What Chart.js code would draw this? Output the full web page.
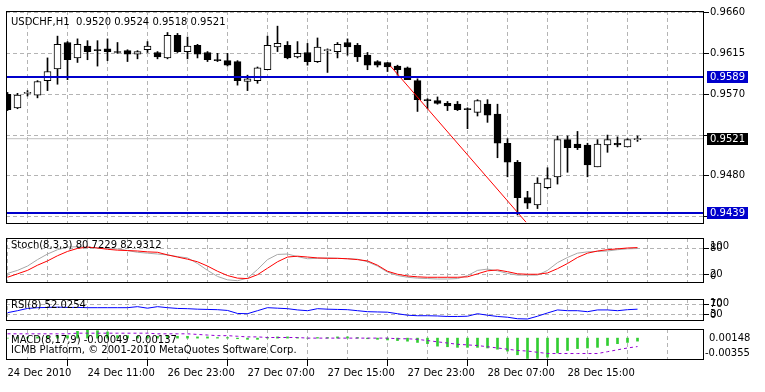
<!DOCTYPE html>
<html>
<head>
<meta charset="utf-8">
<script src="https://cdn.jsdelivr.net/npm/chart.js@4/dist/chart.umd.min.js"></script>
<style>
  html, body { margin: 0; padding: 0; background: #fff; }
  #wrap { position: relative; width: 765px; height: 392px; overflow: hidden; background: #fff; }
  #wrap canvas { position: absolute; left: 0; }
</style>
</head>
<body>
<div id="wrap">
  <canvas id="mainChart" width="765" height="231" style="top:0px"></canvas>
  <canvas id="stochChart" width="765" height="59" style="top:231px"></canvas>
  <canvas id="rsiChart" width="765" height="36" style="top:292px"></canvas>
  <canvas id="macdChart" width="765" height="63" style="top:329px"></canvas>
</div>
<script>
// USDCHF H1, 64 bars
const timeLabels = ['24 Dec 2010', '24 Dec 11:00', '26 Dec 23:00', '27 Dec 07:00',
                    '27 Dec 15:00', '27 Dec 23:00', '28 Dec 07:00', '28 Dec 15:00'];
const gridBars = [0, 4, 8, 12, 16, 20, 24, 28, 32, 36, 40, 44, 48, 52, 56, 60, 64, 68];
const priceTicks = [0.9660, 0.9615, 0.9570, 0.9525, 0.9480, 0.9435];
const hiddenTicks = [0.9525];

const openP = [0.9570, 0.9555, 0.9571, 0.9569, 0.9585, 0.9598, 0.9627, 0.9610, 0.9623, 0.9619,
               0.9620, 0.9617, 0.9618, 0.9614, 0.9619, 0.9616, 0.9610, 0.9635, 0.9617, 0.9624,
               0.9616, 0.9608, 0.9607, 0.9606, 0.9584, 0.9585, 0.9597, 0.9622, 0.9624, 0.9611,
               0.9616, 0.9606, 0.9618, 0.9617, 0.9627, 0.9624, 0.9613, 0.9606, 0.9605, 0.9601,
               0.9599, 0.9585, 0.9564, 0.9563, 0.9560, 0.9559, 0.9554, 0.9550, 0.9559, 0.9548,
               0.9516, 0.9495, 0.9456, 0.9448, 0.9467, 0.9479, 0.9520, 0.9515, 0.9514, 0.9490,
               0.9514, 0.9516, 0.9512, 0.9520];
const highP = [0.9572, 0.9571, 0.9574, 0.9585, 0.9610, 0.9634, 0.9628, 0.9631, 0.9629, 0.9629,
               0.9631, 0.9627, 0.9619, 0.9618, 0.9628, 0.9617, 0.9638, 0.9637, 0.9633, 0.9625,
               0.9617, 0.9615, 0.9615, 0.9607, 0.9591, 0.9600, 0.9634, 0.9645, 0.9628, 0.9628,
               0.9626, 0.9632, 0.9620, 0.9627, 0.9631, 0.9626, 0.9616, 0.9607, 0.9605, 0.9602,
               0.9600, 0.9587, 0.9565, 0.9567, 0.9562, 0.9562, 0.9555, 0.9564, 0.9564, 0.9559,
               0.9521, 0.9497, 0.9463, 0.9478, 0.9489, 0.9524, 0.9524, 0.9529, 0.9516, 0.9520,
               0.9525, 0.9523, 0.9521, 0.9524];
const lowP = [0.9552, 0.9554, 0.9568, 0.9566, 0.9574, 0.9581, 0.9586, 0.9605, 0.9608, 0.9601,
              0.9607, 0.9615, 0.9606, 0.9609, 0.9616, 0.9609, 0.9609, 0.9616, 0.9609, 0.9610,
              0.9606, 0.9606, 0.9601, 0.9580, 0.9574, 0.9582, 0.9597, 0.9617, 0.9609, 0.9610,
              0.9602, 0.9605, 0.9594, 0.9610, 0.9613, 0.9606, 0.9597, 0.9600, 0.9595, 0.9591,
              0.9586, 0.9551, 0.9554, 0.9559, 0.9552, 0.9552, 0.9532, 0.9546, 0.9539, 0.9500,
              0.9479, 0.9437, 0.9444, 0.9444, 0.9466, 0.9471, 0.9484, 0.9509, 0.9479, 0.9490,
              0.9506, 0.9512, 0.9512, 0.9518];
const closeP = [0.9553, 0.9569, 0.9572, 0.9584, 0.9595, 0.9625, 0.9608, 0.9625, 0.9617, 0.9618,
                0.9617, 0.9616, 0.9614, 0.9617, 0.9623, 0.9611, 0.9635, 0.9617, 0.9623, 0.9614,
                0.9608, 0.9607, 0.9602, 0.9585, 0.9587, 0.9599, 0.9624, 0.9626, 0.9610, 0.9615,
                0.9606, 0.9622, 0.9619, 0.9625, 0.9622, 0.9611, 0.9602, 0.9602, 0.9600, 0.9597,
                0.9586, 0.9564, 0.9563, 0.9560, 0.9557, 0.9553, 0.9553, 0.9563, 0.9547, 0.9516,
                0.9495, 0.9456, 0.9450, 0.9472, 0.9477, 0.9520, 0.9511, 0.9511, 0.9492, 0.9515,
                0.9520, 0.9514, 0.9520, 0.9521];

const levelLines = [0.9589, 0.9439];
const bidPrice = 0.9521;
const trendX = [38.3, 51.85];
const trendY = [0.9601, 0.9429];
const boxLevels = [0.9589, 0.9521, 0.9439];

const stochMain = [23, 30, 40, 55, 68, 78, 84, 85, 84, 82, 81, 80, 76, 72, 70, 68, 66, 62, 59, 46,
                   30, 16, 8, 6, 12, 32, 55, 67, 68, 62, 57, 58, 59, 58, 57, 56, 50, 40, 26, 18,
                   14, 12, 11, 10, 10, 11, 18, 30, 33, 29, 23, 19, 19, 19, 30, 48, 60, 70, 73, 74,
                   75, 78, 80, 80.7229];
const stochSignal = [14, 22, 30, 42, 52, 64, 74, 81, 84, 82, 79, 77, 76, 75, 73, 72, 66, 61, 56, 50,
                     40, 28, 18, 12, 11, 20, 35, 50, 61, 63, 61, 59, 58, 58, 57, 55, 52, 42, 28, 21,
                     17, 15, 14, 14, 14, 14, 15, 22, 29, 31, 27, 22, 21, 21, 24, 34, 46, 60, 70, 75,
                     78, 80, 82, 82.9312];
const stochLevels = [80, 20];

const rsiValues = [38, 46, 55, 58, 59, 60, 59, 59, 58, 58, 58, 58, 58, 62, 56, 62, 58, 55, 54, 52,
                   51, 50, 47, 35, 34, 46, 58, 56, 54, 49, 46, 54, 52, 51, 50, 46, 42, 41, 40, 34,
                   28, 26, 26, 25, 23, 23, 24, 34, 28, 23, 20, 14, 13, 24, 37, 49, 46, 46, 42, 49,
                   49, 46, 50, 52.0254];
const rsiLevels = [70, 30];

const macdMain = [0.0000, 0.0001, 0.0001, 0.0002, 0.0003, 0.0004, 0.0004, 0.0011, 0.00148, 0.0012,
                  0.0010, 0.0004, 0.0004, 0.0003, 0.0003, 0.0003, 0.0004, 0.0003, 0.0003, 0.0002,
                  0.0002, 0.0001, 0.0001, -0.0001, -0.0002, -0.0002, 0.0001, 0.0002, 0.0002, 0.0001,
                  0.0000, 0.0001, 0.0001, 0.0002, 0.0002, 0.0001, -0.0001, -0.0002, -0.0003, -0.0004,
                  -0.0005, -0.0007, -0.0009, -0.0013, -0.0014, -0.0015, -0.0015, -0.0015, -0.0016, -0.0018,
                  -0.0021, -0.0027, -0.0033, -0.0033, -0.0031, -0.0024, -0.0020, -0.0017, -0.0016, -0.0015,
                  -0.0012, -0.0009, -0.0007, -0.00049];
const macdSignal = [0.0007, 0.0007, 0.0007, 0.0007, 0.0007, 0.0007, 0.0007, 0.0008, 0.0008, 0.0008,
                    0.0008, 0.0008, 0.0008, 0.0008, 0.0008, 0.0007, 0.0007, 0.0007, 0.0007, 0.0006,
                    0.0005, 0.0004, 0.0004, 0.0003, 0.0002, 0.0002, 0.0001, 0.0001, 0.0001, 0.0001,
                    0.0000, 0.0000, 0.0000, 0.0000, 0.0000, 0.0000, 0.0000, 0.0000, 0.0000, -0.0001,
                    -0.0001, -0.0002, -0.0004, -0.0006, -0.0008, -0.0010, -0.0011, -0.0012, -0.0014, -0.0016,
                    -0.0018, -0.0020, -0.0021, -0.0023, -0.0025, -0.0025, -0.0025, -0.0025, -0.0025, -0.0025,
                    -0.0022, -0.0019, -0.0016, -0.00137];
const macdRange = [-0.00355, 0.00148];

const X_MIN = -0.15, X_MAX = 69.65;
const FONT = 'DejaVu Sans';
const GRID = '#b4b4b4';
const AXIS_W = 61;

const series = arr => arr.map((v, i) => ({ x: i, y: v }));

const common = {
    responsive: false,
    animation: false,
    devicePixelRatio: 1,
    events: [],
    plugins: { legend: { display: false }, tooltip: { enabled: false } }
};

function xAxis(showLabels) {
    return {
        type: 'linear', min: X_MIN, max: X_MAX, offset: false,
        afterBuildTicks: s => { s.ticks = gridBars.map(v => ({ value: v })); },
        afterFit: s => { s.height = showLabels ? 32 : 0; },
        grid: {
            color: GRID, drawTicks: showLabels, tickLength: 6,
            tickColor: c => (c.tick && c.tick.value % 8 === 0 && timeLabels[c.tick.value / 8]) ? '#000' : 'rgba(0,0,0,0)'
        },
        border: { display: false, dash: [4, 3] },
        ticks: {
            display: showLabels, autoSkip: false, maxRotation: 0, minRotation: 0, align: 'start', padding: 1,
            color: '#000', font: { family: FONT, size: 10 },
            callback: v => (v % 8 === 0 && timeLabels[v / 8]) ? timeLabels[v / 8] : ''
        }
    };
}

function rightAxis(min, max, ticks, fmt, showTicks) {
    return {
        position: 'right', min: min, max: max,
        afterBuildTicks: s => { s.ticks = ticks.map(v => ({ value: v })); },
        afterFit: s => { s.width = AXIS_W; },
        grid: { color: GRID, tickColor: '#000', tickLength: 5, drawTicks: showTicks },
        border: { display: false, dash: [4, 3] },
        ticks: { display: showTicks, padding: 1, color: '#000', font: { family: FONT, size: 10 }, callback: fmt }
    };
}

const framePlugin = {
    id: 'frame',
    afterDraw(chart) {
        const { ctx, chartArea: a } = chart;
        ctx.save();
        ctx.strokeStyle = '#000';
        ctx.lineWidth = 1;
        ctx.strokeRect(a.left + 0.5, a.top + 0.5, a.right - a.left - 1, a.bottom - a.top - 1);
        ctx.restore();
    }
};

function panelText(lines, extra) {
    return {
        id: 'panelText',
        afterDraw(chart) {
            const ctx = chart.ctx;
            ctx.save();
            ctx.font = '10px "' + FONT + '"';
            ctx.textBaseline = 'middle';
            ctx.fillStyle = '#000';
            lines.forEach(l => ctx.fillText(l[0], 11, l[1]));
            if (extra) extra(chart, ctx);
            ctx.restore();
        }
    };
}

// main price window
new Chart(document.getElementById('mainChart'), {
    type: 'bar',
    data: {
        datasets: [
            ...levelLines.map(v => ({
                type: 'line', data: [{ x: X_MIN - 1, y: v }, { x: X_MAX + 1, y: v }],
                borderColor: '#0000cc', borderWidth: 2, pointRadius: 0, clip: 0
            })),
            {
                type: 'line', data: trendX.map((x, i) => ({ x: x, y: trendY[i] })),
                borderColor: '#ff0000', borderWidth: 1, pointRadius: 0, clip: 0
            },
            {
                data: openP.map((o, i) => ({ x: i, y: [o, closeP[i]] })),
                grouped: false, barThickness: 7, minBarLength: 1,
                borderWidth: 1, borderColor: '#000', borderSkipped: false,
                backgroundColor: c => closeP[c.dataIndex] >= openP[c.dataIndex] ? '#fff' : '#000'
            },
            {
                data: lowP.map((l, i) => ({ x: i, y: [l, highP[i]] })),
                grouped: false, barThickness: 1, borderWidth: 0, backgroundColor: '#000'
            },
            {
                type: 'line', data: [{ x: X_MIN - 1, y: bidPrice }, { x: X_MAX + 1, y: bidPrice }],
                borderColor: '#c0c0c0', borderWidth: 1, pointRadius: 0, clip: 0
            }
        ]
    },
    options: {
        ...common,
        layout: { padding: { top: 11, left: 6, right: 0, bottom: 1 } },
        scales: {
            x: xAxis(false),
            y: rightAxis(0.94270, 0.96617, priceTicks,
                         v => hiddenTicks.includes(v) ? '' : v.toFixed(4), true)
        }
    },
    plugins: [framePlugin, panelText([['USDCHF,H1  0.9520 0.9524 0.9518 0.9521', 22]], (chart, ctx) => {
        const y = chart.scales.y;
        boxLevels.forEach(v => {
            const py = Math.round(y.getPixelForValue(v));
            ctx.fillStyle = v === bidPrice ? '#000' : '#0000cc';
            ctx.fillRect(707, py - 6, 41, 12);
            ctx.fillStyle = '#fff';
            ctx.fillText(v.toFixed(4), 710, py);
        });
    })]
});

// stochastic
new Chart(document.getElementById('stochChart'), {
    type: 'line',
    data: {
        datasets: [
            { data: series(stochSignal), borderColor: '#ff0000', borderWidth: 1, pointRadius: 0, clip: 0 },
            { data: series(stochMain), borderColor: '#a8a8a8', borderWidth: 1, pointRadius: 0, clip: 0 }
        ]
    },
    options: {
        ...common,
        layout: { padding: { top: 0, left: 6, right: 0, bottom: 1 } },
        scales: { x: xAxis(false), y: rightAxis(0.7, 105.2, stochLevels, v => String(v), true) }
    },
    plugins: [framePlugin, panelText([['Stoch(8,3,3) 80.7229 82.9312', 14]], (chart, ctx) => {
        const y = chart.scales.y;
        ctx.fillText('100', 710, y.getPixelForValue(80) - 2);
        ctx.fillText('0', 710, y.getPixelForValue(20) + 2);
    })]
});

// RSI
new Chart(document.getElementById('rsiChart'), {
    type: 'line',
    data: {
        datasets: [
            { data: series(rsiValues), borderColor: '#0000ff', borderWidth: 1, pointRadius: 0, clip: 0 }
        ]
    },
    options: {
        ...common,
        layout: { padding: { top: 0, left: 6, right: 0, bottom: 1 } },
        scales: { x: xAxis(false), y: rightAxis(5, 92.5, rsiLevels, v => String(v), true) }
    },
    plugins: [framePlugin, panelText([['RSI(8) 52.0254', 13]], (chart, ctx) => {
        const y = chart.scales.y;
        ctx.fillText('100', 710, y.getPixelForValue(70) - 1);
        ctx.fillText('0', 710, y.getPixelForValue(30) + 1);
    })]
});

// MACD
new Chart(document.getElementById('macdChart'), {
    type: 'bar',
    data: {
        datasets: [
            {
                type: 'line', data: series(macdSignal), borderColor: '#9400d3', borderWidth: 1,
                borderDash: [3, 3], pointRadius: 0, clip: 0
            },
            { data: series(macdMain), grouped: false, barThickness: 2, borderWidth: 0, backgroundColor: '#32cd32' }
        ]
    },
    options: {
        ...common,
        layout: { padding: { top: 0, left: 6, right: 0, bottom: 0 } },
        scales: { x: xAxis(true), y: rightAxis(macdRange[0], macdRange[1], [], v => '', false) }
    },
    plugins: [framePlugin, panelText([
        ['MACD(8,17,9) -0.00049 -0.00137', 11],
        ['ICMB Platform, \u00a9 2001-2010 MetaQuotes Software Corp.', 21]
    ], (chart, ctx) => {
        const a = chart.chartArea;
        ctx.fillText(macdRange[1].toFixed(5), 709, a.top + 9);
        ctx.fillText(macdRange[0].toFixed(5), 705, a.bottom - 7);
    })]
});
</script>
</body>
</html>
